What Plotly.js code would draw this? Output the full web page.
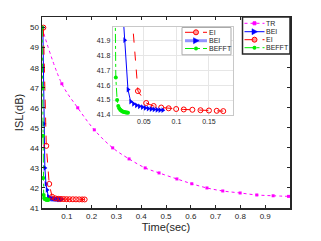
<!DOCTYPE html>
<html><head><meta charset="utf-8">
<script src="https://cdn.plot.ly/plotly-3.0.1.min.js"></script>
<style>html,body{margin:0;padding:0;background:#fff}#c{width:321px;height:241px}</style>
</head><body><div id="c"></div>
<script>
// TR series
const trX = [0, 0.08, 0.144, 0.211, 0.285, 0.351, 0.416, 0.472, 0.544, 0.604, 0.665, 0.729, 0.799, 0.866, 0.932, 0.994];
const trY = [50, 47.2, 46.0, 44.9, 44.0, 43.45, 43.0, 42.75, 42.45, 42.21, 42.0, 41.85, 41.75, 41.65, 41.61, 41.58];
// EI series
const eiX = [0.0055, 0.0173, 0.0291, 0.0408, 0.0535, 0.065, 0.0766, 0.088, 0.0996, 0.1113, 0.1245, 0.137, 0.150, 0.162, 0.172];
const eiY = [50, 44.1, 42.2, 41.56, 41.48, 41.46, 41.45, 41.445, 41.44, 41.437, 41.435, 41.432, 41.43, 41.428, 41.426];
// BEI series
const beiX = [0.0035, 0.0075, 0.0115, 0.016, 0.0204, 0.0255, 0.0296, 0.034, 0.0385, 0.043, 0.0475, 0.052, 0.0565, 0.061, 0.0655, 0.070, 0.0745, 0.079];
const beiY = [50, 45.2, 43.0, 42.2, 41.9, 41.57, 41.49, 41.475, 41.465, 41.458, 41.452, 41.447, 41.443, 41.44, 41.437, 41.435, 41.433, 41.432];
// BEFFT series
const bfX = [0.0005, 0.002, 0.0035, 0.005, 0.0068, 0.0088, 0.0105, 0.012, 0.0135, 0.015, 0.0165, 0.018, 0.0195, 0.021, 0.0225, 0.024, 0.0255];
const bfY = [50, 47, 44.6, 42.5, 41.65, 41.5, 41.46, 41.445, 41.435, 41.43, 41.425, 41.422, 41.42, 41.418, 41.417, 41.416, 41.415];
// ticks
const mainXTicks = [0.1, 0.2, 0.3, 0.4, 0.5, 0.6, 0.7, 0.8, 0.9];
const mainYTicks = [41, 42, 43, 44, 45, 46, 47, 48, 49, 50];
const insetXTicks = [0.05, 0.1, 0.15];
const insetYTicks = [41.4, 41.5, 41.6, 41.7, 41.8, 41.9];
// legend entries
const mainLegend = ['TR', 'BEI', 'EI', 'BEFFT'];
const insetLegend = ['EI', 'BEI', 'BEFFT'];

const COL = {TR:'#ff00ff', BEI:'#0000ff', EI:'#ff0000', BEFFT:'#00ee00'};
const st = {
  TR: {line:{color:COL.TR, dash:'dot', width:1, shape:'spline'}, marker:{symbol:'square', size:3, color:COL.TR}},
  BEI: {line:{color:COL.BEI, dash:'solid', width:1}, marker:{symbol:'triangle-right', size:5, color:COL.BEI}},
  EI: {line:{color:COL.EI, dash:'dash', width:1}, marker:{symbol:'circle-open', size:5, color:COL.EI, line:{width:1}}},
  BEFFT: {line:{color:COL.BEFFT, dash:'dashdot', width:1}, marker:{symbol:'circle', size:4, color:COL.BEFFT}}
};
function tr(name, x, y, xa, ya){
  return {x:x, y:y, name:name, type:'scatter', mode:'lines+markers', xaxis:xa, yaxis:ya,
    line:st[name].line, marker:st[name].marker, showlegend:false};
}
const data = [
  tr('TR', trX, trY, 'x', 'y'),
  tr('BEI', beiX, beiY, 'x', 'y'),
  tr('EI', eiX, eiY, 'x', 'y'),
  tr('BEFFT', bfX, bfY, 'x', 'y'),
  tr('EI', eiX, eiY, 'x2', 'y2'),
  tr('BEI', beiX, beiY, 'x2', 'y2'),
  tr('BEFFT', bfX, bfY, 'x2', 'y2')
];

// custom compact legends (pixel -> paper helpers)
const PL = 42, PB = 208, PW = 248, PH = 191;
const px = p => (p - PL) / PW, py = p => (PB - p) / PH;
const shapes = [{type:'rect', xref:'paper', yref:'paper', x0:px(112.7), x1:px(233), y0:py(115), y1:py(26.7), fillcolor:'#fff', line:{width:0}, layer:'below'}];
const annotations = [];
const dashMap = {TR:'dot', BEI:'solid', EI:'dash', BEFFT:'dashdot'};
function legendBox(names, x0, x1, y0, rows, lx0, lx1, tx, border, bw, thickBEI){
  shapes.push({type:'rect', xref:'paper', yref:'paper', x0:px(x0), x1:px(x1), y0:py(y0), y1:py(rows[rows.length-1] + (rows[1]-rows[0])*0.75),
    fillcolor:'#fff', line:{color:border, width:bw}, layer:'above'});
  names.forEach((n, i) => {
    const yy = rows[i], c = COL[n], mx = (lx0 + lx1) / 2;
    const thick = thickBEI && n === 'BEI';
    shapes.push({type:'line', xref:'paper', yref:'paper', x0:px(lx0), x1:px(lx1), y0:py(yy), y1:py(yy),
      line:{color:thick ? 'rgba(60,60,255,0.55)' : c, width:thick ? 3 : 1, dash:dashMap[n]}, layer:'above'});
    if (n === 'TR') shapes.push({type:'rect', xref:'paper', yref:'paper', x0:px(mx-1.5), x1:px(mx+1.5), y0:py(yy+1.5), y1:py(yy-1.5), fillcolor:c, line:{color:c, width:1}, layer:'above'});
    if (n === 'EI') shapes.push({type:'circle', xref:'paper', yref:'paper', x0:px(mx-2.5), x1:px(mx+2.5), y0:py(yy+2.5), y1:py(yy-2.5), fillcolor:'rgba(255,80,80,0.6)', line:{color:c, width:1}, layer:'above'});
    if (n === 'BEFFT') shapes.push({type:'circle', xref:'paper', yref:'paper', x0:px(mx-2), x1:px(mx+2), y0:py(yy+2), y1:py(yy-2), fillcolor:c, line:{color:c, width:0}, layer:'above'});
    if (n === 'BEI') shapes.push({type:'path', xref:'paper', yref:'paper',
      path:`M${px(mx-2.5)},${py(yy-3)} L${px(mx+3)},${py(yy)} L${px(mx-2.5)},${py(yy+3)} Z`, fillcolor:'#0000ff', line:{color:'#0000ff', width:0.5}, layer:'above'});
    annotations.push({xref:'paper', yref:'paper', x:px(tx), y:py(yy), xanchor:'left', yanchor:'middle', showarrow:false,
      text:n, font:{family:'Liberation Sans, Arial, sans-serif', size:7, color:'#262626'}, borderpad:0, borderwidth:0});
  });
}
legendBox(mainLegend, 242.5, 290, 17, [23.3, 31.7, 39.7, 47.7], 244.5, 264.5, 266, '#262626', 1.5, false);
legendBox(insetLegend, 182, 231, 27.5, [32.3, 40.7, 48.5], 185, 207, 208.5, '#aaaaaa', 1, true);

const tickFont = {family:'Liberation Sans, Arial, sans-serif', size:8, color:'#262626'};
const layout = {
  width:321, height:241, margin:{l:PL, r:321-PL-PW, t:17, b:241-PB},
  paper_bgcolor:'#fff', plot_bgcolor:'#fff', showlegend:false,
  font:{family:'Liberation Sans, Arial, sans-serif', color:'#262626'},
  xaxis:{domain:[0,1], range:[0,1], tickvals:mainXTicks, ticktext:mainXTicks.map(String), ticks:'inside', ticklen:3,
    tickcolor:'#262626', showline:true, linecolor:'#262626', linewidth:1.5, mirror:'ticks', showgrid:false, zeroline:false,
    tickfont:tickFont, title:{text:'Time(sec)', font:{size:11, color:'#262626'}, standoff:3}},
  yaxis:{domain:[0,1], range:[41,50.53], tickvals:mainYTicks, ticks:'inside', ticklen:3,
    tickcolor:'#262626', showline:true, linecolor:'#262626', linewidth:1.5, mirror:'ticks', showgrid:false, zeroline:false,
    tickfont:tickFont, title:{text:'ISL(dB)', font:{size:11, color:'#262626'}, standoff:4}},
  xaxis2:{anchor:'y2', domain:[px(112.7), px(233)], range:[0.002, 0.187], tickvals:insetXTicks, ticktext:['0.05','0.1','0.15'],
    ticks:'', showline:true, linecolor:'#c8c8c8', linewidth:1, mirror:true, showgrid:true, gridcolor:'#e6e6e6', zeroline:false,
    tickfont:{family:'Liberation Sans, Arial, sans-serif', size:7, color:'#262626'}},
  yaxis2:{anchor:'x2', domain:[py(115), py(26.7)], range:[41.4, 41.99], tickvals:insetYTicks, ticktext:insetYTicks.map(v=>v.toFixed(1)),
    ticks:'', showline:true, linecolor:'#c8c8c8', linewidth:1, mirror:true, showgrid:true, gridcolor:'#e6e6e6', zeroline:false,
    tickfont:{family:'Liberation Sans, Arial, sans-serif', size:7, color:'#262626'}},
  shapes:shapes, annotations:annotations
};
Plotly.newPlot('c', data, layout, {staticPlot:true, displayModeBar:false});
</script></body></html>
